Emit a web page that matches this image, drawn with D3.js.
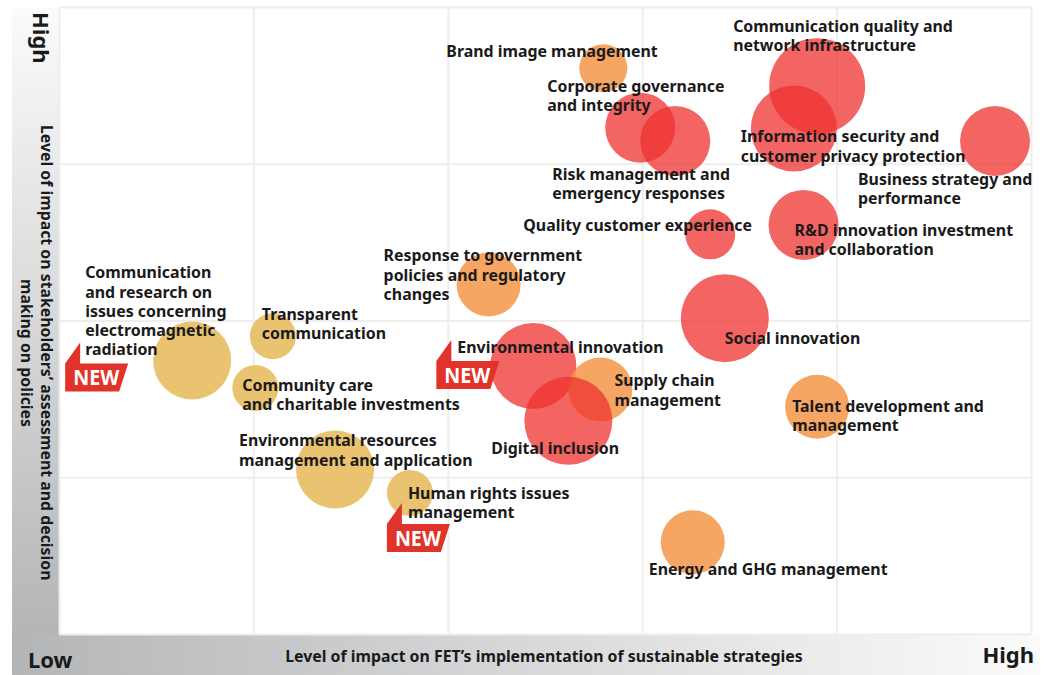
<!DOCTYPE html>
<html>
<head>
<meta charset="utf-8">
<script src="https://cdn.jsdelivr.net/npm/d3@7"></script>
<style>
html, body { margin: 0; padding: 0; background: #fff; }
text { font-family: "Noto Sans", sans-serif; fill: #1a1a1a; }
.label { font-size: 15.9px; font-weight: 700; }
.axisTitle { font-size: 15.85px; font-weight: 700; }
.end { font-size: 22px; font-weight: 700; }
.grid line { stroke: #eeeeee; stroke-width: 2; }
.grid path { display: none; }
</style>
</head>
<body>
<div id="chart"></div>
<script>
// Chart values (grid units: 5 columns, 4 rows)
var names = [
	"Brand image management",
	"Communication quality and\nnetwork infrastructure",
	"Corporate governance\nand integrity",
	"Risk management and\nemergency responses",
	"Information security and\ncustomer privacy protection",
	"Business strategy and\nperformance",
	"Quality customer experience",
	"R&D innovation investment\nand collaboration",
	"Response to government\npolicies and regulatory\nchanges",
	"Social innovation",
	"Environmental innovation",
	"Supply chain\nmanagement",
	"Digital inclusion",
	"Talent development and\nmanagement",
	"Energy and GHG management",
	"Communication\nand research on\nissues concerning\nelectromagnetic\nradiation",
	"Transparent\ncommunication",
	"Community care\nand charitable investments",
	"Environmental resources\nmanagement and application",
	"Human rights issues\nmanagement"
];
var xValues = [2.80, 3.90, 2.99, 3.17, 3.78, 4.815, 3.35, 3.83, 2.21, 3.425, 2.44, 2.785, 2.62, 3.90, 3.26, 0.685, 1.10, 1.01, 1.42, 1.805];
var yValues = [3.61, 3.495, 3.23, 3.145, 3.225, 3.145, 2.55, 2.61, 2.23, 2.015, 1.71, 1.56, 1.36, 1.45, 0.585, 1.745, 1.90, 1.57, 1.05, 0.90];
var sizes = [24, 48, 35, 35, 43, 35, 25, 35, 32, 44, 43, 32, 44, 32, 32, 39, 23, 23, 39, 23];
// 0 = red, 1 = orange, 2 = yellow
var groups = [1, 0, 0, 0, 0, 0, 0, 0, 1, 0, 0, 1, 0, 1, 1, 2, 2, 2, 2, 2];
var newItems = [15, 10, 19];

// Layout
var width = 1050;
var height = 675;
var margin = { top: 7, right: 19, bottom: 41, left: 59 };
var plotW = width - margin.left - margin.right;
var plotH = height - margin.top - margin.bottom;

// where each label sits relative to its bubble
var labelDx = [-157, -84, -93, -123, -53, -137, -187, -9, -105, 0, -76, 14, -77, -25, -44, -107, -11, -13, -96, -2];
var labelDy = [-11, -54, -36, 39, 14, 44, -3, 11, -23, 26, -13, -3, 33, 5, 33, -82, -16, 3, -23, 6];
var lineGap = 19.2;
var badgeDx = [-127, -97, -23];
var badgeDy = [3, -5, 31];

var colors = ["rgba(238,49,47,0.75)", "rgba(245,150,70,0.85)", "rgba(231,190,100,0.93)"];

var svg = d3
	.select("#chart")
	.append("svg")
	.attr("width", width)
	.attr("height", height)
	.style("display", "block");

var defs = svg.append("defs");

var leftGrad = defs.append("linearGradient")
	.attr("id", "leftBand")
	.attr("x1", 0).attr("y1", 0).attr("x2", 0).attr("y2", 1);
leftGrad.append("stop").attr("offset", "0%").attr("stop-color", "#fbfbfb");
leftGrad.append("stop").attr("offset", "100%").attr("stop-color", "#b4b5b7");

var bottomGrad = defs.append("linearGradient")
	.attr("id", "bottomBand")
	.attr("x1", 0).attr("y1", 0).attr("x2", 1).attr("y2", 0);
bottomGrad.append("stop").attr("offset", "0%").attr("stop-color", "#b4b5b7");
bottomGrad.append("stop").attr("offset", "100%").attr("stop-color", "#fbfbfb");

// Grey bands
svg.append("rect")
	.attr("x", 12).attr("y", margin.top)
	.attr("width", margin.left - 12).attr("height", plotH)
	.attr("fill", "url(#leftBand)");
svg.append("rect")
	.attr("x", 12).attr("y", margin.top + plotH)
	.attr("width", 1028).attr("height", margin.bottom)
	.attr("fill", "url(#bottomBand)");

// Scales
var xScale = d3.scaleLinear().domain([0, 5]).range([margin.left, margin.left + plotW]);
var yScale = d3.scaleLinear().domain([0, 4]).range([margin.top + plotH, margin.top]);
var rScale = d3.scaleLinear().domain([0, 48]).range([0, 48]);

// Grid comes from the axes, no tick text
svg.append("g")
	.attr("class", "grid")
	.attr("transform", "translate(0," + (margin.top + plotH) + ")")
	.call(d3.axisBottom(xScale).ticks(5).tickSize(-plotH).tickFormat(""));
svg.append("g")
	.attr("class", "grid")
	.attr("transform", "translate(" + margin.left + ",0)")
	.call(d3.axisLeft(yScale).ticks(4).tickSize(-plotW).tickFormat(""));

// Bubbles
svg.append("g")
	.selectAll("circle")
	.data(names)
	.enter()
	.append("circle")
	.attr("cx", function(d, i) { return xScale(xValues[i]); })
	.attr("cy", function(d, i) { return yScale(yValues[i]); })
	.attr("r", function(d, i) { return rScale(sizes[i]); })
	.attr("fill", function(d, i) { return colors[groups[i]]; });

// NEW flags
var badges = svg.append("g")
	.selectAll("g")
	.data(newItems)
	.enter()
	.append("g")
	.attr("transform", function(d, i) {
		return "translate(" + (xScale(xValues[d]) + badgeDx[i]) + "," + (yScale(yValues[d]) + badgeDy[i]) + ")";
	});
badges.append("path")
	.attr("d", "M0,0L15,-21L15,0L63,0L54,28L0,28Z")
	.attr("fill", "#e1332a");
badges.append("text")
	.attr("x", 8)
	.attr("y", 22)
	.attr("font-size", 21)
	.attr("font-weight", 700)
	.attr("textLength", 46)
	.attr("lengthAdjust", "spacingAndGlyphs")
	.style("fill", "#fff")
	.text("NEW");

// Bubble labels
var labels = svg.append("g")
	.selectAll("text")
	.data(names)
	.enter()
	.append("text")
	.attr("class", "label")
	.attr("transform", function(d, i) {
		return "translate(" + (xScale(xValues[i]) + labelDx[i]) + "," + (yScale(yValues[i]) + labelDy[i]) + ")";
	});
labels.selectAll("tspan")
	.data(function(d) { return d.split("\n"); })
	.enter()
	.append("tspan")
	.attr("x", 0)
	.attr("y", function(d, i) { return i * lineGap; })
	.text(function(d) { return d; });

// Axis titles
svg.append("text").attr("class", "axisTitle")
	.attr("x", 544).attr("y", 662).attr("text-anchor", "middle")
	.text("Level of impact on FET\u2019s implementation of sustainable strategies");
svg.append("text").attr("class", "end").attr("x", 28).attr("y", 668).text("Low");
svg.append("text").attr("class", "end").attr("x", 1034).attr("y", 663).attr("text-anchor", "end").text("High");
svg.append("text").attr("class", "end")
	.attr("transform", "translate(33,12)rotate(90)").text("High");
svg.append("text").attr("class", "axisTitle")
	.attr("transform", "translate(41,125)rotate(90)")
	.text("Level of impact on stakeholders\u2019 assessment and decision");
svg.append("text").attr("class", "axisTitle")
	.attr("transform", "translate(21,353)rotate(90)")
	.attr("text-anchor", "middle")
	.text("making on policies");
</script>
</body>
</html>
